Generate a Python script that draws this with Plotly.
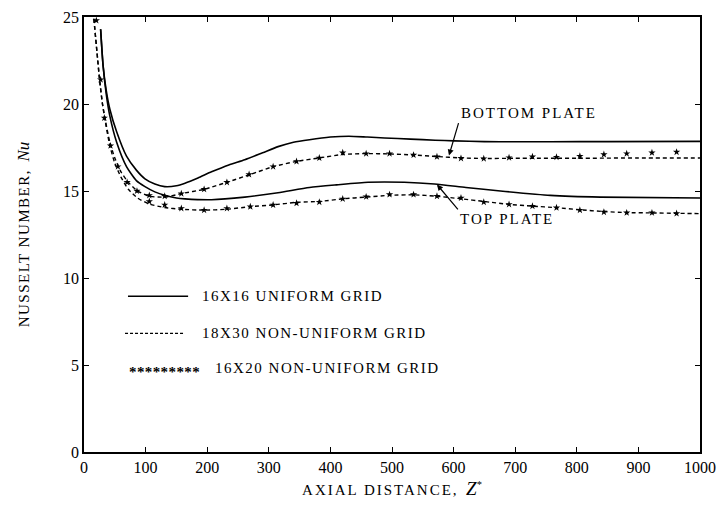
import plotly.graph_objects as go

# ---- data ----
z_solid_bottom = [27, 31, 36, 42, 53, 69, 85, 99, 115, 131, 150, 164, 185, 207, 235, 261, 290, 315, 340, 366, 400, 430, 460, 488, 530, 570, 601, 650, 700, 757, 850, 1000]
nu_solid_bottom = [24.3, 22.2, 20.8, 19.7, 18.4, 17.0, 16.2, 15.7, 15.4, 15.25, 15.3, 15.45, 15.75, 16.1, 16.5, 16.8, 17.2, 17.55, 17.8, 17.95, 18.1, 18.15, 18.1, 18.05, 17.98, 17.92, 17.88, 17.84, 17.83, 17.83, 17.84, 17.85]

z_solid_top = [27, 31, 36, 42, 53, 69, 85, 99, 115, 131, 150, 164, 207, 261, 315, 366, 410, 461, 520, 569, 620, 676, 757, 838, 1000]
nu_solid_top = [24.3, 22.2, 20.6, 19.3, 17.8, 16.4, 15.6, 15.25, 14.95, 14.75, 14.6, 14.55, 14.5, 14.65, 14.9, 15.2, 15.35, 15.5, 15.5, 15.4, 15.2, 15.0, 14.75, 14.65, 14.6]

z_dash_bottom = [16, 21, 25, 30, 35, 42, 50, 60, 72, 87, 106, 131, 158, 195, 232, 270, 307, 345, 382, 420, 458, 496, 535, 573, 612, 649, 700, 800, 900, 1000]
nu_dash_bottom = [24.9, 23.0, 21.5, 20.0, 19.0, 17.8, 16.9, 16.1, 15.5, 15.0, 14.7, 14.65, 14.85, 15.1, 15.5, 15.95, 16.4, 16.7, 16.9, 17.1, 17.15, 17.13, 17.07, 16.98, 16.9, 16.87, 16.88, 16.88, 16.9, 16.9]

z_dash_top = [16, 21, 25, 30, 35, 42, 50, 60, 72, 87, 106, 131, 158, 195, 232, 270, 307, 345, 382, 420, 458, 496, 535, 573, 612, 649, 690, 728, 767, 805, 844, 881, 922, 962, 1000]
nu_dash_top = [24.9, 23.0, 21.5, 20.0, 18.9, 17.6, 16.6, 15.8, 15.1, 14.6, 14.25, 14.05, 13.95, 13.9, 13.95, 14.1, 14.2, 14.35, 14.4, 14.55, 14.65, 14.75, 14.78, 14.7, 14.55, 14.4, 14.23, 14.13, 14.04, 13.92, 13.82, 13.76, 13.74, 13.72, 13.7]

z_star_bottom = [20, 27, 33, 43, 55, 70, 86, 106, 131, 158, 195, 232, 268, 307, 345, 382, 420, 458, 496, 535, 573, 612, 649, 690, 728, 767, 805, 844, 881, 922, 962]
nu_star_bottom = [24.8, 21.4, 19.2, 17.6, 16.4, 15.5, 15.0, 14.75, 14.7, 14.85, 15.1, 15.5, 15.95, 16.4, 16.7, 16.9, 17.2, 17.15, 17.15, 17.07, 16.97, 16.88, 16.86, 16.92, 16.97, 16.95, 17.0, 17.1, 17.15, 17.2, 17.24]

z_star_top = [106, 131, 158, 195, 232, 270, 307, 345, 382, 420, 458, 496, 535, 573, 612, 649, 690, 728, 767, 805, 844, 881, 922, 962]
nu_star_top = [14.4, 14.2, 14.0, 13.9, 14.0, 14.1, 14.2, 14.3, 14.36, 14.55, 14.67, 14.8, 14.8, 14.7, 14.6, 14.36, 14.23, 14.13, 14.04, 13.9, 13.79, 13.75, 13.75, 13.71]

x_ticks = [0, 100, 200, 300, 400, 500, 600, 700, 800, 900, 1000]
y_ticks = [0, 5, 10, 15, 20, 25]

legend_labels = ["16X16 UNIFORM GRID", "18X30 NON-UNIFORM GRID", "16X20 NON-UNIFORM GRID"]

FONT = "Liberation Serif"


def spaced(txt, px):
    return "<span style='letter-spacing:%spx'>%s</span>" % (px, txt)


fig = go.Figure()

for zz, nn in [(z_solid_bottom, nu_solid_bottom), (z_solid_top, nu_solid_top)]:
    fig.add_trace(go.Scatter(x=zz, y=nn, mode="lines", line=dict(color="black", width=1.6, shape="spline", smoothing=0.6), showlegend=False))

for zz, nn in [(z_dash_bottom, nu_dash_bottom), (z_dash_top, nu_dash_top)]:
    fig.add_trace(go.Scatter(x=zz, y=nn, mode="lines", line=dict(color="black", width=1.4, dash="4px,3px", shape="spline", smoothing=0.6), showlegend=False))

for zz, nn in [(z_star_bottom, nu_star_bottom), (z_star_top, nu_star_top)]:
    fig.add_trace(go.Scatter(x=zz, y=nn, mode="markers", marker=dict(symbol="star", size=5.5, color="black"), showlegend=False))

axis_common = dict(
    showline=True, linecolor="black", linewidth=1.6, mirror="ticks",
    ticks="inside", ticklen=5, tickwidth=1.3, tickcolor="black",
    showgrid=False, zeroline=False, automargin=False,
    tickfont=dict(family=FONT, size=16, color="black"),
)

fig.update_layout(
    width=718, height=514,
    margin=dict(l=84, r=18, t=17, b=62),
    plot_bgcolor="white", paper_bgcolor="white",
    xaxis=dict(range=[0, 1000], tickvals=x_ticks, ticktext=[str(v) for v in x_ticks],
               title=dict(text=spaced("AXIAL DISTANCE,", 2) + "  <i><span style='font-size:19px'>Z</span></i><sup>*</sup>",
                          font=dict(family=FONT, size=15, color="black"), standoff=9),
               **axis_common),
    yaxis=dict(range=[0, 25], tickvals=y_ticks, ticktext=[str(v) for v in y_ticks],
               title=dict(text=spaced("NUSSELT NUMBER,", 1.5) + "  <i><span style='font-size:17px'>Nu</span></i>",
                          font=dict(family=FONT, size=15, color="black"), standoff=30),
               **axis_common),
    showlegend=False,
)

# custom legend (paper coordinates)
fig.add_shape(type="line", xref="paper", yref="paper", x0=0.0714, x1=0.169, y0=0.358, y1=0.358,
              line=dict(color="black", width=1.5))
fig.add_shape(type="line", xref="paper", yref="paper", x0=0.0666, x1=0.164, y0=0.2727, y1=0.2727,
              line=dict(color="black", width=1.3, dash="3px,2px"))
fig.add_annotation(xref="paper", yref="paper", x=0.188, y=0.358, text=spaced(legend_labels[0], 1.5), showarrow=False,
                   xanchor="left", yanchor="middle", font=dict(family=FONT, size=15, color="black"))
fig.add_annotation(xref="paper", yref="paper", x=0.188, y=0.2727, text=spaced(legend_labels[1], 1.5), showarrow=False,
                   xanchor="left", yanchor="middle", font=dict(family=FONT, size=15, color="black"))
fig.add_annotation(xref="paper", yref="paper", x=0.069, y=0.192, text="<b>" + spaced("*********", 0.4) + "</b>", showarrow=False,
                   xanchor="left", yanchor="middle", yshift=-4, font=dict(family=FONT, size=15, color="black"))
fig.add_annotation(xref="paper", yref="paper", x=0.209, y=0.192, text=spaced(legend_labels[2], 1.5), showarrow=False,
                   xanchor="left", yanchor="middle", font=dict(family=FONT, size=15, color="black"))

# plate labels with arrows (text box anchored at the arrow tail)
fig.add_annotation(x=592.5, y=17.04, ax=608, ay=18.9, axref="x", ayref="y",
                   text=spaced("BOTTOM PLATE", 2), showarrow=True, xanchor="left", yanchor="bottom",
                   arrowhead=2, arrowsize=1, arrowwidth=1.2, arrowcolor="black",
                   font=dict(family=FONT, size=15, color="black"))
fig.add_annotation(x=573, y=15.37, ax=607, ay=13.95, axref="x", ayref="y",
                   text=spaced("TOP PLATE", 2), showarrow=True, xanchor="left", yanchor="top",
                   arrowhead=2, arrowsize=1, arrowwidth=1.2, arrowcolor="black",
                   font=dict(family=FONT, size=15, color="black"))

fig.write_html("out.html")
